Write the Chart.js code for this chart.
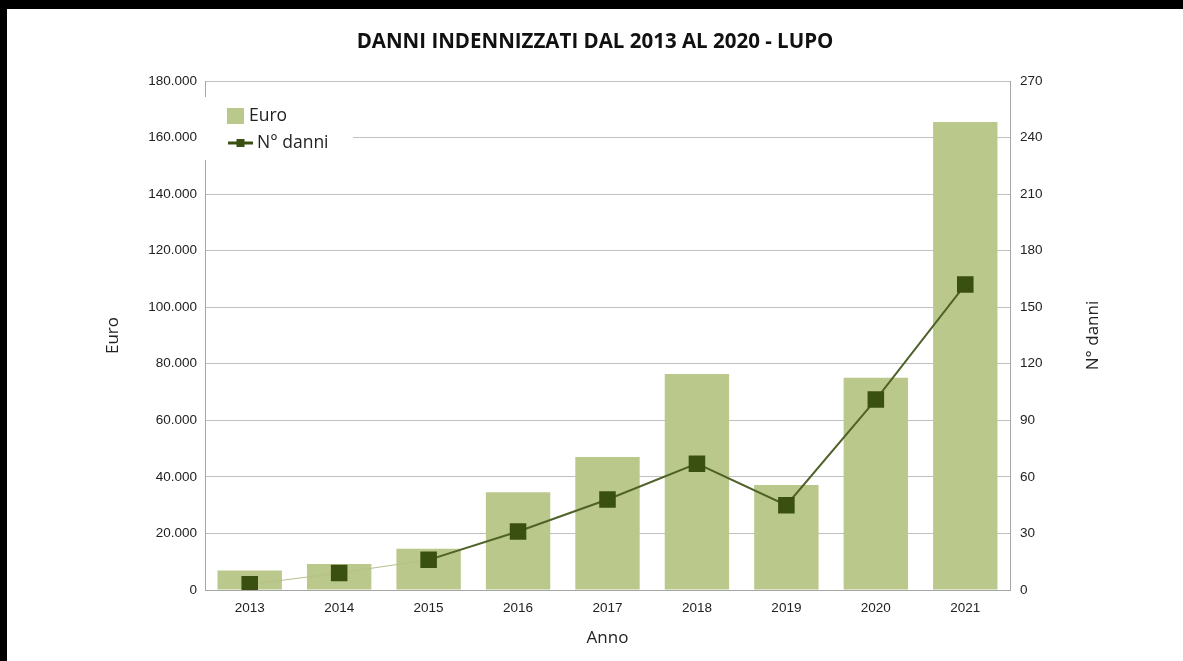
<!DOCTYPE html>
<html>
<head>
<meta charset="utf-8">
<script src="https://cdn.jsdelivr.net/npm/chart.js@4"></script>
<style>
  html, body { margin: 0; padding: 0; background: #000; }
  #wrap { position: absolute; left: 7px; top: 9px; width: 1176px; height: 652px; background: #fff; }
</style>
</head>
<body>
<div id="wrap"><canvas id="chart"></canvas></div>
<script>
const anni = ["2013", "2014", "2015", "2016", "2017", "2018", "2019", "2020", "2021"];
const euro = [6900, 9200, 14600, 34600, 47000, 76400, 37100, 75100, 165500];
const nDanni = [3, 9, 16, 31, 48, 67, 45, 101, 162];
const euroTicks = [0, 20000, 40000, 60000, 80000, 100000, 120000, 140000, 160000, 180000];
const danniTicks = [0, 30, 60, 90, 120, 150, 180, 210, 240, 270];

const barColor = "#bbc88c";
const markColor = "#3a5010";
const tickFont = { family: "Liberation Sans", size: 13.5 };
const axisTitleFont = { family: "Open Sans", size: 17 };

// legend box inside the plot + right axis title reading bottom to top
const extras = {
  id: "extras",
  afterDraw(chart) {
    const ctx = chart.ctx;
    const area = chart.chartArea;
    ctx.save();
    ctx.fillStyle = "#fff";
    ctx.fillRect(area.left - 1, 88, 149, 63);

    ctx.fillStyle = barColor;
    ctx.fillRect(220, 99, 17, 16);
    ctx.fillStyle = "#222";
    ctx.font = "17.5px 'Open Sans'";
    ctx.textBaseline = "middle";
    ctx.fillText("Euro", 242, 107);

    ctx.strokeStyle = markColor;
    ctx.lineWidth = 3;
    ctx.beginPath();
    ctx.moveTo(221, 134);
    ctx.lineTo(246, 134);
    ctx.stroke();
    ctx.fillStyle = markColor;
    ctx.fillRect(229.5, 130, 8, 8);
    ctx.fillStyle = "#222";
    ctx.fillText("N° danni", 250, 134);

    ctx.translate(1086, (area.top + area.bottom) / 2);
    ctx.rotate(-Math.PI / 2);
    ctx.textAlign = "center";
    ctx.font = "17px 'Open Sans'";
    ctx.fillText("N° danni", 0, 0);
    ctx.restore();
  }
};

new Chart(document.getElementById("chart"), {
  data: {
    labels: anni,
    datasets: [
      {
        type: "line",
        label: "N° danni",
        data: nDanni,
        yAxisID: "y1",
        borderColor: "#4f6228",
        borderWidth: 2,
        pointStyle: "rect",
        pointRadius: 11.7,
        pointHoverRadius: 11.7,
        pointBackgroundColor: markColor,
        pointBorderWidth: 0,
        tension: 0,
        segment: {
          borderColor: c => c.p1DataIndex <= 2 ? "#b4c08a" : "#4f6228",
          borderWidth: c => c.p1DataIndex <= 2 ? 1 : 2
        },
        order: 1
      },
      {
        type: "bar",
        label: "Euro",
        data: euro,
        yAxisID: "y",
        backgroundColor: barColor,
        barPercentage: 0.72,
        categoryPercentage: 1,
        order: 2
      }
    ]
  },
  options: {
    responsive: true,
    maintainAspectRatio: false,
    animation: false,
    layout: { padding: 0 },
    plugins: {
      legend: { display: false },
      tooltip: { enabled: false },
      title: {
        display: true,
        text: "DANNI INDENNIZZATI DAL 2013 AL 2020 - LUPO",
        color: "#111",
        font: { family: "Open Sans", size: 20.5, weight: "bold", lineHeight: 1.2 },
        padding: { top: 21, bottom: 26.4 }
      }
    },
    scales: {
      x: {
        grid: { display: false, drawTicks: false },
        border: { color: "#a6a6a6" },
        ticks: { color: "#222", font: tickFont, padding: 10, maxRotation: 0 },
        title: {
          display: true, text: "Anno", color: "#222",
          font: axisTitleFont,
          padding: { top: 0, bottom: 13 }
        },
        afterFit(s) { s.height = 71; }
      },
      y: {
        position: "left",
        min: 0, max: 180000,
        afterBuildTicks(s) { s.ticks = euroTicks.map(v => ({ value: v })); },
        grid: { color: "#c0c0c0", drawTicks: false },
        border: { color: "#a6a6a6" },
        ticks: {
          color: "#222", font: tickFont, padding: 8,
          callback: v => v.toLocaleString("it-IT")
        },
        title: {
          display: true, text: "Euro", color: "#222",
          font: axisTitleFont,
          padding: { top: 96, bottom: 0 }
        },
        afterFit(s) { s.width = 198; }
      },
      y1: {
        position: "right",
        min: 0, max: 270,
        afterBuildTicks(s) { s.ticks = danniTicks.map(v => ({ value: v })); },
        grid: { display: false, drawTicks: false },
        border: { color: "#a6a6a6" },
        ticks: { color: "#222", font: tickFont, padding: 10 },
        afterFit(s) { s.width = 173; }
      }
    }
  },
  plugins: [extras]
});
</script>
</body>
</html>
